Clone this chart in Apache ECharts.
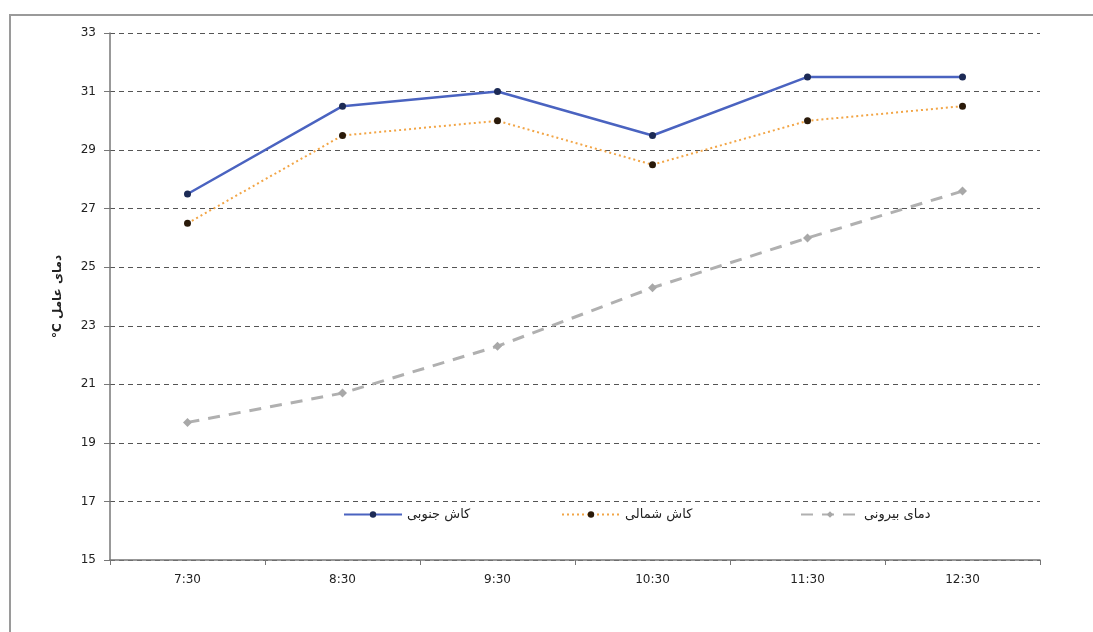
<!DOCTYPE html>
<html><head><meta charset="utf-8">
<script src="https://cdn.jsdelivr.net/npm/echarts@6/dist/echarts.min.js"></script>
<style>html,body{margin:0;padding:0;background:#fff}#c{width:1093px;height:632px}</style>
</head><body><div id="c"></div>
<script>
const categories = ['7:30','8:30','9:30','10:30','11:30','12:30'];
const southValues = [27.5, 30.5, 31, 29.5, 31.5, 31.5];
const northValues = [26.5, 29.5, 30, 28.5, 30, 30.5];
const outsideValues = [19.7, 20.7, 22.3, 24.3, 26.0, 27.6];
const seriesNames = ['کاش جنوبی', 'کاش شمالی', 'دمای بیرونی'];
const yAxisName = '°C دمای عامل';

const chart = echarts.init(document.getElementById('c'));
const font = 'DejaVu Sans';
const legendBase = {orient:'horizontal', top:503, itemWidth:58, itemHeight:8, itemGap:8,
  textStyle:{fontFamily:font, fontSize:13, color:'#222'}, selectedMode:false};
chart.setOption({
  animation:false,
  backgroundColor:'#fff',
  graphic:[{type:'rect', shape:{x:10, y:15, width:1200, height:800}, style:{fill:'none', stroke:'#9a9a9a', lineWidth:2}, silent:true}],
  grid:{left:110, right:53, top:33, bottom:72},
  legend:[
    Object.assign({}, legendBase, {left:338, data:[seriesNames[0]]}),
    Object.assign({}, legendBase, {left:556, data:[seriesNames[1]]}),
    Object.assign({}, legendBase, {left:795, data:[seriesNames[2]]})
  ],
  xAxis:{type:'category', data:categories, boundaryGap:true,
    axisLine:{lineStyle:{color:'#777', width:1.5}},
    axisTick:{show:true, length:5, lineStyle:{color:'#777'}},
    axisLabel:{fontFamily:font, fontSize:12, color:'#222', margin:14},
    splitLine:{show:false}},
  yAxis:{type:'value', min:15, max:33, interval:2,
    name:yAxisName, nameLocation:'middle', nameGap:46, nameRotate:90,
    nameTextStyle:{fontFamily:font, fontSize:12, fontWeight:'bold', color:'#222'},
    axisLine:{show:true, lineStyle:{color:'#777', width:1.5}},
    axisTick:{show:true, length:6, lineStyle:{color:'#777'}},
    axisLabel:{fontFamily:font, fontSize:12, color:'#222', margin:14},
    splitLine:{show:true, lineStyle:{color:'#555', type:[5,4], width:1}}},
  series:[
    {name:seriesNames[0], type:'line', data:southValues, symbol:'circle', symbolSize:7,
      lineStyle:{color:'#4a63c0', width:2.5}, itemStyle:{color:'#1c2a55'}, z:4},
    {name:seriesNames[1], type:'line', data:northValues, symbol:'circle', symbolSize:7,
      lineStyle:{color:'#f2a546', width:2, type:[2,3]}, itemStyle:{color:'#2a1a0a'}, z:3},
    {name:seriesNames[2], type:'line', data:outsideValues, symbol:'diamond', symbolSize:9,
      lineStyle:{color:'#b0b0b0', width:3, type:[12,9]}, itemStyle:{color:'#a8a8a8'}, z:2}
  ]
});
</script></body></html>
